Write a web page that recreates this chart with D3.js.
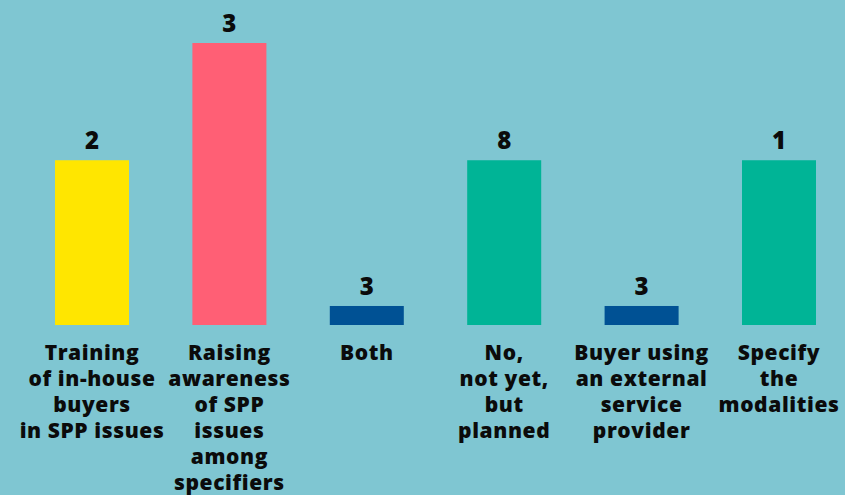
<!DOCTYPE html>
<html>
<head>
<meta charset="utf-8">
<script src="https://cdn.jsdelivr.net/npm/d3@7"></script>
<style>
  html, body { margin: 0; padding: 0; background: #7fc6d2; }
  svg { display: block; }
  text { font-family: "Open Sans", "DejaVu Sans", sans-serif; font-weight: 800; fill: #0b0b0b; }
</style>
</head>
<body>
<svg id="chart" width="845" height="495"></svg>
<script>
// Answer categories, one label line per array entry
const categories = [
  ["Training", "of in-house", "buyers", "in SPP issues"],
  ["Raising", "awareness", "of SPP", "issues", "among", "specifiers"],
  ["Both"],
  ["No,", "not yet,", "but", "planned"],
  ["Buyer using", "an external", "service", "provider"],
  ["Specify", "the", "modalities"]
];
// Bar lengths
const values = [26, 44.5, 3, 26, 3, 26];
// Figures printed above the bars
const valueLabels = ["2", "3", "3", "8", "3", "1"];
const colors = ["#ffe600", "#ff5f75", "#005194", "#00b496", "#005194", "#00b496"];

const width = 845, height = 495;
const baseline = 325;
const svg = d3.select("#chart");

svg.append("rect").attr("width", width).attr("height", height).attr("fill", "#7fc6d2");

const idx = d3.range(categories.length);

const x = d3.scaleBand()
  .domain(idx)
  .range([23.3, 847.7])
  .paddingInner(0.4614)
  .paddingOuter(0.2307);

const y = d3.scaleLinear()
  .domain([0, 50])
  .range([baseline, baseline - 50 * 6.337]);

// Bars
svg.append("g").selectAll("rect")
  .data(idx)
  .join("rect")
  .attr("x", i => x(i))
  .attr("width", x.bandwidth())
  .attr("y", i => y(values[i]))
  .attr("height", i => y(0) - y(values[i]))
  .attr("fill", i => colors[i]);

// Figures above bars
svg.append("g").selectAll("text")
  .data(idx)
  .join("text")
  .attr("x", i => x(i) + x.bandwidth() / 2)
  .attr("y", i => y(values[i]) - 11)
  .attr("text-anchor", "middle")
  .style("font-size", "24px")
  .text(i => valueLabels[i]);

// Category labels below the baseline
const lab = svg.append("g").selectAll("text")
  .data(idx)
  .join("text")
  .attr("x", i => x(i) + x.bandwidth() / 2)
  .attr("y", baseline + 35)
  .attr("text-anchor", "middle")
  .style("font-size", "21px")
  .style("letter-spacing", "0.6px");

lab.selectAll("tspan")
  .data(i => categories[i].map(line => ({ line, cx: x(i) + x.bandwidth() / 2 })))
  .join("tspan")
  .attr("x", d => d.cx)
  .attr("dy", (d, k) => k === 0 ? 0 : 26)
  .text(d => d.line);
</script>
</body>
</html>
